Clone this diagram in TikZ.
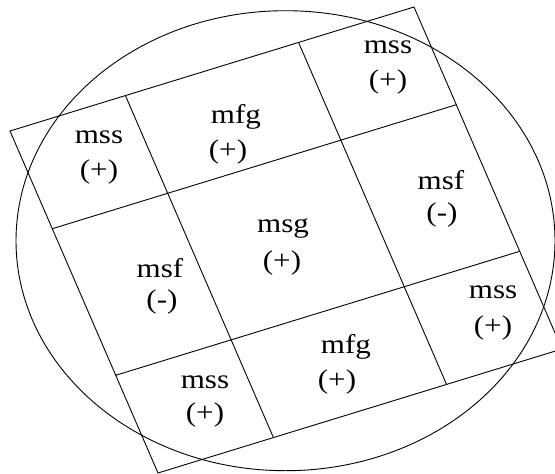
\documentclass[tikz,border=0pt]{standalone}
\usepackage{fontspec}
\setmainfont{Liberation Serif}
\usepackage{graphicx}
\usetikzlibrary{calc}
\newcommand{\widetext}[1]{\scalebox{1.15}[1]{#1}}
\begin{document}
\begin{tikzpicture}[
    x=1pt, y=-1pt,
    edge/.style={line width=0.9pt},
    lbl/.style={inner sep=0pt, font=\fontsize{27}{32}\selectfont}
]
\clip (0,0) rectangle (555,474);
% corners of the tilted square
\coordinate (tl) at (10,131);
\coordinate (tr) at (414,7);
\coordinate (br) at (562,349);
\coordinate (bl) at (158,473);

\draw[edge] (tl) -- (tr) -- (br) -- (bl) -- cycle;
\draw[edge] ($(tl)!2/7!(tr)$) -- ($(bl)!2/7!(br)$);
\draw[edge] ($(tl)!5/7!(tr)$) -- ($(bl)!5/7!(br)$);
\draw[edge] ($(tl)!2/7!(bl)$) -- ($(tr)!2/7!(br)$);
\draw[edge] ($(tl)!5/7!(bl)$) -- ($(tr)!5/7!(br)$);

% surrounding circle
\draw[edge] (285.5,240.7) ellipse [x radius=269.5, y radius=230];

% cell labels
\node[lbl] (nameA) at (99,137) {\widetext{mss}};
\node[lbl] (signA) at (99,172) {\widetext{(+)}};
\node[lbl] (nameB) at (236,117) {\widetext{mfg}};
\node[lbl] (signB) at (228,152) {\widetext{(+)}};
\node[lbl] (nameC) at (388,47) {\widetext{mss}};
\node[lbl] (signC) at (388,82) {\widetext{(+)}};
\node[lbl] (nameD) at (160,268) {\widetext{msf}};
\node[lbl] (signD) at (162,302) {\widetext{(-)}};
\node[lbl] (nameE) at (283,228) {\widetext{msg}};
\node[lbl] (signE) at (282,263) {\widetext{(+)}};
\node[lbl] (nameF) at (441,180) {\widetext{msf}};
\node[lbl] (signF) at (442,215) {\widetext{(-)}};
\node[lbl] (nameG) at (205,382) {\widetext{mss}};
\node[lbl] (signG) at (205,415) {\widetext{(+)}};
\node[lbl] (nameH) at (346,347) {\widetext{mfg}};
\node[lbl] (signH) at (337,382) {\widetext{(+)}};
\node[lbl] (nameI) at (493,292) {\widetext{mss}};
\node[lbl] (signI) at (493,328) {\widetext{(+)}};
\end{tikzpicture}
\end{document}
